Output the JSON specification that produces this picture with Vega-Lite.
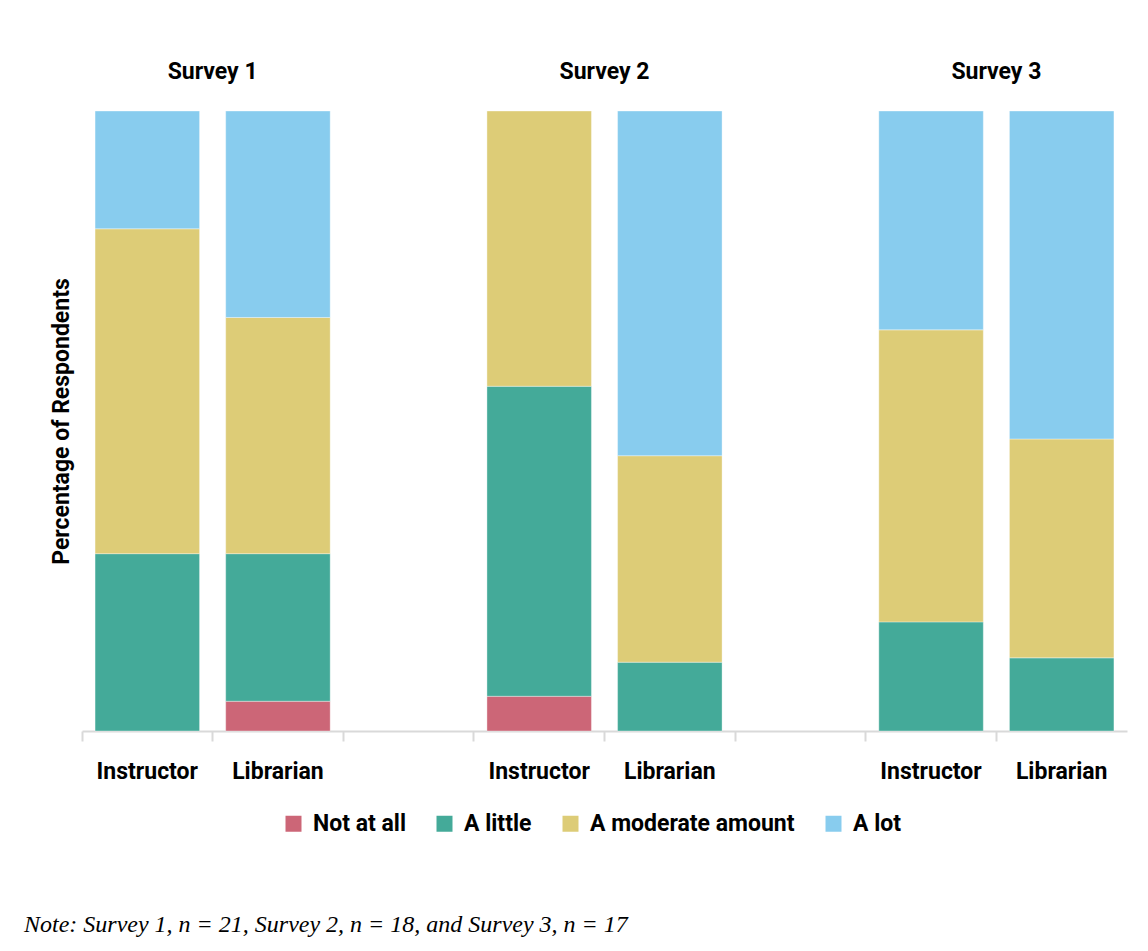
{
  "$schema": "https://vega.github.io/schema/vega-lite/v6.json",
  "autosize": "none",
  "width": 1045,
  "height": 620,
  "padding": {"left": 82, "top": 111, "right": 21, "bottom": 220},
  "background": "white",
  "config": {
    "view": {"stroke": null},
    "font": "Roboto"
  },
  "title": {
    "text": "Note: Survey 1, n = 21, Survey 2, n = 18, and Survey 3, n = 17",
    "orient": "bottom",
    "anchor": "start",
    "font": "Liberation Serif",
    "fontStyle": "italic",
    "fontWeight": "normal",
    "fontSize": 24,
    "color": "black",
    "offset": 77,
    "dx": -26
  },
  "layer": [
    {
      "data": {
        "values": [
          {"slot": "S1 Instructor", "response": "A little", "pct": 28.6},
          {"slot": "S1 Instructor", "response": "A moderate amount", "pct": 52.4},
          {"slot": "S1 Instructor", "response": "A lot", "pct": 19.0},
          {"slot": "S1 Librarian", "response": "Not at all", "pct": 4.8},
          {"slot": "S1 Librarian", "response": "A little", "pct": 23.8},
          {"slot": "S1 Librarian", "response": "A moderate amount", "pct": 38.1},
          {"slot": "S1 Librarian", "response": "A lot", "pct": 33.3},
          {"slot": "S2 Instructor", "response": "Not at all", "pct": 5.6},
          {"slot": "S2 Instructor", "response": "A little", "pct": 50.0},
          {"slot": "S2 Instructor", "response": "A moderate amount", "pct": 44.4},
          {"slot": "S2 Librarian", "response": "A little", "pct": 11.1},
          {"slot": "S2 Librarian", "response": "A moderate amount", "pct": 33.3},
          {"slot": "S2 Librarian", "response": "A lot", "pct": 55.6},
          {"slot": "S3 Instructor", "response": "A little", "pct": 17.6},
          {"slot": "S3 Instructor", "response": "A moderate amount", "pct": 47.1},
          {"slot": "S3 Instructor", "response": "A lot", "pct": 35.3},
          {"slot": "S3 Librarian", "response": "A little", "pct": 11.8},
          {"slot": "S3 Librarian", "response": "A moderate amount", "pct": 35.3},
          {"slot": "S3 Librarian", "response": "A lot", "pct": 52.9}
        ]
      },
      "transform": [
        {"calculate": "indexof(['Not at all', 'A little', 'A moderate amount', 'A lot'], datum.response)", "as": "stackRank"}
      ],
      "mark": {"type": "bar", "width": {"band": 0.8}, "stroke": "white", "strokeWidth": 0.6, "strokeOpacity": 0.6},
      "encoding": {
        "x": {
          "field": "slot",
          "type": "nominal",
          "scale": {
            "domain": ["S1 Instructor", "S1 Librarian", "gap1", "S2 Instructor", "S2 Librarian", "gap2", "S3 Instructor", "S3 Librarian"],
            "paddingInner": 0,
            "paddingOuter": 0
          },
          "axis": {
            "title": null,
            "labelAngle": 0,
            "labelExpr": "indexof(datum.value, 'gap') === 0 ? '' : split(datum.value, ' ')[1]",
            "labelFont": "Roboto",
            "labelFontSize": 23,
            "labelFontWeight": "bold",
            "labelColor": "black",
            "labelPadding": 19,
            "bandPosition": 0,
            "domainColor": "#d9d9d9",
            "domainWidth": 2,
            "tickColor": "#d9d9d9",
            "tickWidth": 2,
            "tickSize": 10,
            "grid": false
          }
        },
        "y": {
          "field": "pct",
          "type": "quantitative",
          "stack": "normalize",
          "scale": {"domain": [0, 1]},
          "axis": {
            "title": "Percentage of Respondents",
            "titleFont": "Roboto",
            "titleFontSize": 23,
            "titleFontWeight": "bold",
            "titleColor": "black",
            "titlePadding": 9,
            "labels": false,
            "ticks": false,
            "domain": false,
            "grid": false
          }
        },
        "order": {"field": "stackRank", "type": "quantitative", "sort": "ascending"},
        "color": {
          "field": "response",
          "type": "nominal",
          "sort": ["Not at all", "A little", "A moderate amount", "A lot"],
          "scale": {
            "domain": ["Not at all", "A little", "A moderate amount", "A lot"],
            "range": ["#CC6677", "#44AA99", "#DDCC77", "#88CCEE"]
          },
          "legend": {
            "title": null,
            "orient": "none",
            "legendX": 200,
            "legendY": 701,
            "direction": "horizontal",
            "symbolType": "square",
            "symbolSize": 256,
            "symbolStrokeWidth": 0,
            "labelFont": "Roboto",
            "labelFontSize": 23,
            "labelFontWeight": "bold",
            "labelColor": "black",
            "labelOffset": 8,
            "columnPadding": 27,
            "labelLimit": 400
          }
        }
      }
    },
    {
      "data": {
        "values": [
          {"slot": "S1 Librarian", "label": "Survey 1"},
          {"slot": "S2 Librarian", "label": "Survey 2"},
          {"slot": "S3 Librarian", "label": "Survey 3"}
        ]
      },
      "mark": {"type": "text", "font": "Roboto", "fontSize": 23, "fontWeight": "bold", "color": "black", "baseline": "middle", "align": "center"},
      "encoding": {
        "x": {"field": "slot", "type": "nominal", "bandPosition": 0},
        "y": {"datum": 1.063, "type": "quantitative"},
        "text": {"field": "label"}
      }
    }
  ]
}
